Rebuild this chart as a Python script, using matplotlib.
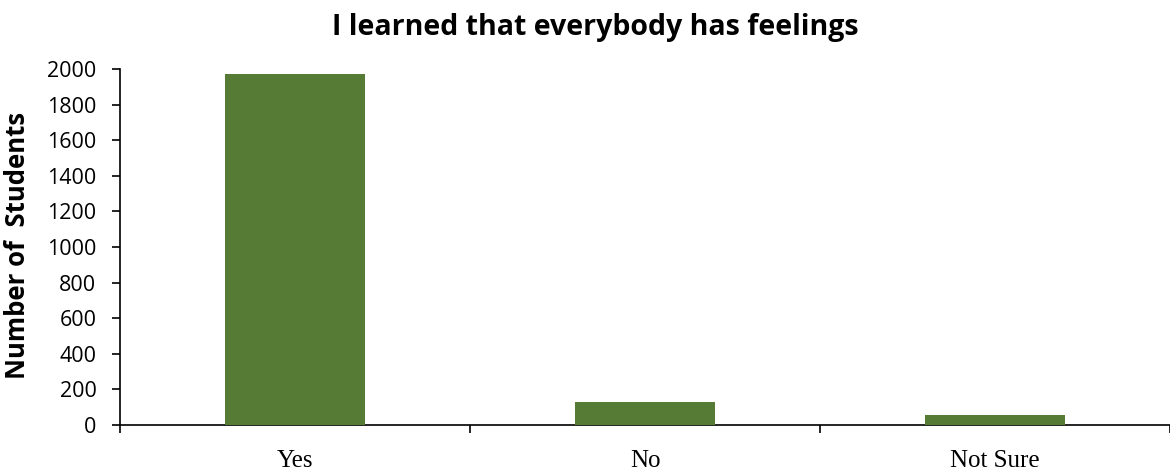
import matplotlib
matplotlib.use("Agg")
import matplotlib.pyplot as plt
from matplotlib.ticker import FixedLocator

# data
categories = ["Yes", "No", "Not Sure"]
students = [1972, 130, 55]
y_ticks = [0, 200, 400, 600, 800, 1000, 1200, 1400, 1600, 1800, 2000]

fig = plt.figure(figsize=(11.7, 4.71), dpi=100)
ax = fig.add_axes([120 / 1170, 1 - 425 / 471, 1 - 120 / 1170, (425 - 69) / 471])

x = list(range(len(categories)))
ax.bar(x, students, width=0.4, color="#557B35", zorder=3)

ax.set_xlim(-0.5, len(categories) - 0.5)
ax.set_ylim(0, 2000)
ax.set_yticks(y_ticks)
ax.set_yticklabels([str(v) for v in y_ticks], fontsize=15.5, family="Open Sans")

ax.set_xticks(x)
ax.set_xticklabels(categories, fontsize=18, family="Liberation Serif")
ax.tick_params(axis="x", which="major", length=0, pad=18)
ax.xaxis.set_minor_locator(FixedLocator([i - 0.5 for i in range(len(categories) + 1)]))
ax.tick_params(axis="x", which="minor", length=6, width=1.2, direction="out")
ax.tick_params(axis="y", length=6, width=1.2, direction="out", pad=11)

for s in ["top", "right"]:
    ax.spines[s].set_visible(False)
ax.spines["left"].set_linewidth(1.2)
ax.spines["bottom"].set_linewidth(1.2)

fig.text(18 / 1170, 1 - 245 / 471, "Number of  Students", rotation=90, ha="center", va="center",
         fontsize=18.5, fontweight="bold", family="Open Sans")

fig.text(0.509, 1 - 28 / 471, "I learned that everybody has feelings", ha="center", va="center",
         fontsize=20.5, fontweight="bold", family="Open Sans")

fig.savefig("out.png", dpi=100)
